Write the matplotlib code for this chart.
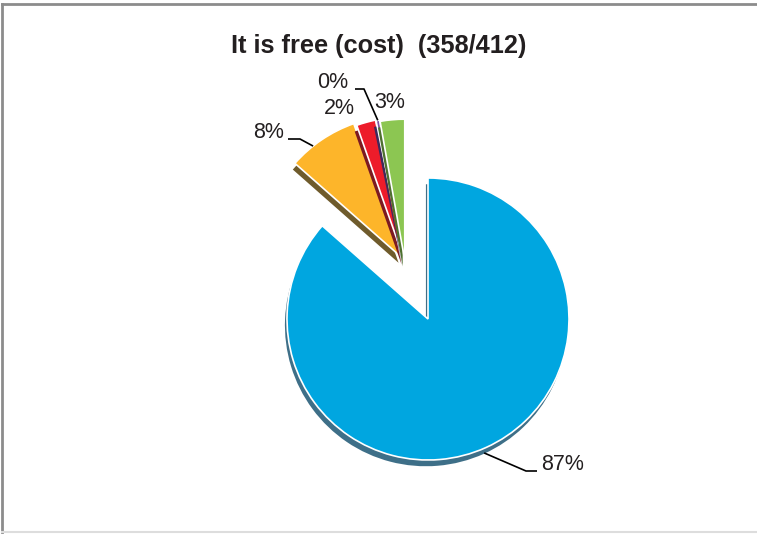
import numpy as np
import matplotlib
matplotlib.use("Agg")
import matplotlib.pyplot as plt
import matplotlib.patheffects as pe
from matplotlib.lines import Line2D

plt.rcParams['font.family'] = ['Liberation Sans', 'DejaVu Sans']

# ── Data ─────────────────────────────────────────────────
title = "It is free (cost)  (358/412)"
shares = [86.5, 8.1, 2.2, 0.4, 2.8]          # clockwise from 12 o'clock
labels = ["87%", "8%", "2%", "0%", "3%"]
colors = ["#00a6e0", "#fdb52a", "#ed1c2a", "#7b52a3", "#8cc652"]
shadow_colors = ["#3e6f88", "#6f5b2c", "#7c1a22", "#3d2a5c", "#4e7030"]

# ── Layout (image pixels) ────────────────────────────────
W, H = 757, 534
CX, CY, R = 428, 319, 141            # centre / radius of the big slice


def px(x, y):
    """image pixel -> data coords (unit = pie radius)"""
    return (x - CX) / R, (CY - y) / R


fig = plt.figure(figsize=(W / 100, H / 100), dpi=100)
ax = fig.add_axes([0, 0, 1, 1])

group_center = px(CX - 23, CY - 56)   # the small slices are pulled out together
explode_small = [0, 0.055, 0.035, 0.03, 0.02]

common = dict(startangle=90, counterclock=False, radius=1,
              wedgeprops=dict(edgecolor="white", linewidth=1.2))
big, _ = ax.pie(shares, colors=colors, center=(0, 0), **common)
small, _ = ax.pie(shares, colors=colors, center=group_center,
                  explode=explode_small, **common)

wedges = [big[0]] + small[1:]
for w in big[1:]:
    w.set_visible(False)
small[0].set_visible(False)

for w, sc in zip(wedges, shadow_colors):
    w.set_path_effects([pe.SimplePatchShadow(offset=(-1.5, -4.5), shadow_rgbFace=sc, alpha=1.0),
                        pe.Normal()])


def arc_point(w, frac=0.5, r=1.0):
    th = np.deg2rad(w.theta1 + frac * (w.theta2 - w.theta1))
    cx, cy = w.center
    return cx + r * w.r * np.cos(th), cy + r * w.r * np.sin(th)


# ── Labels with leader lines ─────────────────────────────
lab_style = dict(fontsize=15.5, color="#231f20")
line_style = dict(color="black", lw=1.2, solid_capstyle="butt")

# 87%
a = arc_point(wedges[0], 0.495, 1.03)
e1, e2 = px(526, 471), px(537, 471)
ax.plot([a[0], e1[0], e2[0]], [a[1], e1[1], e2[1]], **line_style)
ax.text(*px(541, 464), labels[0], ha="left", va="center", **lab_style)

# 8%
a = arc_point(wedges[1], 0.65, 1.0)
e1, e2 = px(300, 139), px(288, 139)
ax.plot([a[0], e1[0], e2[0]], [a[1], e1[1], e2[1]], **line_style)
ax.text(*px(284, 133), labels[1], ha="right", va="center", **lab_style)

# 2%
ax.text(*px(355, 108), labels[2], ha="right", va="center", **lab_style)

# 0%
a = arc_point(wedges[3], 0.5, 1.0)
e1, e2 = px(364, 89), px(355, 89)
ax.plot([a[0], e1[0], e2[0]], [a[1], e1[1], e2[1]], **line_style)
ax.text(*px(348, 82), labels[3], ha="right", va="center", **lab_style)

# 3%
ax.text(*px(374, 102), labels[4], ha="left", va="center", **lab_style)

ax.text(*px(379, 46), title, ha="center", va="center",
        fontsize=18.3, fontweight="bold", color="#231f20")

x0, y0 = px(0, H)
x1, y1 = px(W, 0)
ax.set_xlim(x0, x1)
ax.set_ylim(y0, y1)
ax.set_aspect("auto")
ax.axis("off")

# chart frame (top/left darker, bottom light)
fig.add_artist(Line2D([2 / W, 2 / W], [2 / H, 1 - 4 / H], color="#8c8c8c", lw=2, transform=fig.transFigure))
fig.add_artist(Line2D([2 / W, 1], [1 - 4 / H, 1 - 4 / H], color="#8c8c8c", lw=2, transform=fig.transFigure))
fig.add_artist(Line2D([2 / W, 1], [2 / H, 2 / H], color="#dddddd", lw=1.5, transform=fig.transFigure))

fig.savefig("out.png", dpi=100)
